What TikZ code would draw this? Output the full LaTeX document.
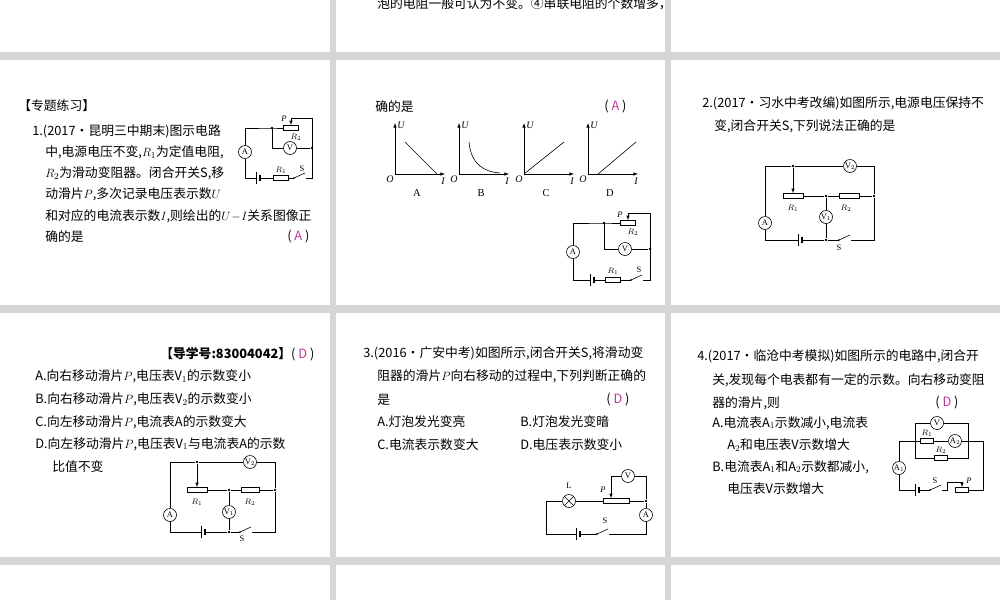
\documentclass[tikz,border=0pt]{standalone}
\usepackage{fontspec}
\setmainfont{Liberation Serif}
\newfontfamily\cjk{Noto Sans CJK SC}
\definecolor{bgc}{HTML}{D6D6D6}
\definecolor{ans}{HTML}{C0399A}
\newcommand\batt[3]{\coordinate (#1l) at (#2-2,#3); \coordinate (#1r) at (#2+2,#3);
 \draw (#2-2,#3-6)--(#2-2,#3+6); \draw[line width=1.3pt] (#2+2,#3-3)--(#2+2,#3+3);}
\newcommand\swt[3]{\coordinate (#1l) at (#2-6,#3); \coordinate (#1r) at (#2+6,#3);
 \draw (#2-6,#3) -- (#2+5,#3-5); \fill (#2-6,#3) circle (0.9pt);}
\begin{document}
\begin{tikzpicture}[x=1pt,y=-1pt,line width=0.6pt,
 txt/.style={anchor=west,inner sep=0,font=\cjk\fontsize{12.8}{14}\selectfont},
 resb/.style={draw,rectangle,minimum width=15pt,minimum height=5pt,inner sep=0},
 meter/.style={draw,circle,minimum size=13pt,inner sep=0,font=\fontsize{8.5}{8.5}\selectfont},
 dotn/.style={circle,fill,minimum size=2.6pt,inner sep=0},
 lab/.style={inner sep=0,font=\fontsize{8.5}{8.5}\selectfont\itshape},
 panel/.style={fill=white,draw=none}]
\useasboundingbox (0,0) rectangle (1000,600);
\fill[bgc] (0,0) rectangle (1000,600);
\foreach \a/\b in {0/330,336/665,671/1000}{
 \foreach \c/\d in {0/52,60/305,313/557,565/600}{
  \fill[white] (\a,\c) rectangle (\b,\d);}}
% top row
\node[txt] (t0) at (377,4) {泡的电阻一般可认为不变。④串联电阻的个数增多，};
% ---------- panel 1
\node[txt] (p1h) at (18,106) {【专题练习】};
\node[txt] (p1a) at (32,131) {1.(2017·昆明三中期末)图示电路};
\node[txt] (p1b) at (45,152) {中,电源电压不变,$R_1$为定值电阻,};
\node[txt] (p1c) at (45,173) {$R_2$为滑动变阻器。闭合开关S,移};
\node[txt] (p1d) at (45,194) {动滑片$P$,多次记录电压表示数$U$};
\node[txt] (p1e) at (45,216) {和对应的电流表示数$I$,则绘出的$U\!-\!I$关系图像正};
\node[txt] (p1f) at (45,237) {确的是};
\node[txt] (p1g) at (287,237) {( \textcolor{ans}{A} )};
% circuit 1
\node[meter] (a1) at (245,152) {A};
\node[resb] (r21) at (291,128) {};
\node[meter] (v1) at (290,148) {V};
\node[resb] (r11) at (281,178) {};
\coordinate (j1) at (272,128);
\node[dotn] (j1d) at (272,128) {};
\node[dotn] (j1r) at (312,148) {};
\coordinate (c1tl) at (245,128);
\coordinate (c1bl) at (245,178);
\coordinate (c1br) at (312,178);
\coordinate (c1tr) at (312,118);
\coordinate (c1p) at (291,118);
\batt{b1}{258}{178}
\swt{s1}{300}{178}
\draw (a1) -- (c1tl) -- (j1) -- (r21.west);
\draw (j1) |- (v1) -- (j1r);
\draw (a1) -- (c1bl) -- (b1l); \draw (b1r) -- (r11.west); \draw (r11.east) -- (s1l);
\draw (s1r) -- (c1br) -- (c1tr) -- (c1p); \draw[-latex] (c1p) -- (r21.north);
\node[lab] (l1p) at (284,119) {P};
\node[lab] (l1r2) at (296,137) {$R_2$};
\node[lab] (l1r1) at (281,170) {$R_1$};
\node[lab,font=\fontsize{8.5}{8.5}\selectfont] (l1s) at (302,169) {S};
% ---------- panel 2
\node[txt] (p2a) at (375,107) {确的是};
\node[txt] (p2b) at (604,107) {( \textcolor{ans}{A} )};
\foreach \ox/\nm in {395/A,459/B,524/C,588/D}{
 \draw[-latex] (\ox,174) -- (\ox,123);
 \draw[-latex] (\ox,174) -- (\ox+50,174);
 \node[lab,font=\fontsize{10}{10}\selectfont\itshape] at (\ox+6,125) {U};
 \node[lab,font=\fontsize{10}{10}\selectfont\itshape] at (\ox-5,179) {O};
 \node[lab,font=\fontsize{10}{10}\selectfont\itshape] at (\ox+48,181) {I};
 \node[inner sep=0,font=\fontsize{10.5}{11}\selectfont] at (\ox+22,193) {\nm};}
\draw (405,142) -- (437,174);
\draw (469,142) .. controls (471,165) and (485,172) .. (500,173);
\draw (524,174) -- (564,142);
\draw (598,174) -- (636,142);
% circuit 2
\node[meter] (a2) at (573,252) {A};
\node[resb] (r22) at (628,223) {};
\node[meter] (v2) at (625,249) {V};
\node[resb] (r12) at (613,280) {};
\coordinate (j2) at (604,223);
\node[dotn] (j2d) at (604,223) {};
\node[dotn] (j2r) at (650,249) {};
\coordinate (c2tl) at (573,223);
\coordinate (c2bl) at (573,280);
\coordinate (c2br) at (650,280);
\coordinate (c2tr) at (650,213);
\coordinate (c2p) at (628,213);
\batt{b2}{592}{280}
\swt{s2}{637}{280}
\draw (a2) -- (c2tl) -- (j2) -- (r22.west);
\draw (j2) |- (v2) -- (j2r);
\draw (a2) -- (c2bl) -- (b2l); \draw (b2r) -- (r12.west); \draw (r12.east) -- (s2l);
\draw (s2r) -- (c2br) -- (c2tr) -- (c2p); \draw[-latex] (c2p) -- (r22.north);
\node[lab] (l2p) at (620,215) {P};
\node[lab] (l2r2) at (633,232) {$R_2$};
\node[lab] (l2r1) at (613,271) {$R_1$};
\node[lab,font=\fontsize{8.5}{8.5}\selectfont] (l2s) at (639,270) {S};
% ---------- panel 3
\node[txt] (p3a) at (702,103) {2.(2017·习水中考改编)如图所示,电源电压保持不};
\node[txt] (p3b) at (714,126) {变,闭合开关S,下列说法正确的是};
\node[meter] (a3) at (765,223) {A};
\node[meter] (v23) at (850,166) {V$_2$};
\node[meter] (v13) at (826,217) {V$_1$};
\node[resb,minimum width=20pt] (r13) at (793,196) {};
\node[resb,minimum width=20pt] (r23) at (849,196) {};
\node[dotn] (j3a) at (793,166) {};
\node[dotn] (j3b) at (826,196) {};
\node[dotn] (j3c) at (874,196) {};
\node[dotn] (j3d) at (826,240) {};
\coordinate (c3tl) at (765,166);
\coordinate (c3tr) at (874,166);
\coordinate (c3bl) at (765,240);
\coordinate (c3br) at (874,240);
\batt{b3}{800}{240}
\swt{s3}{845}{240}
\draw (a3) -- (c3tl) -- (j3a) -- (v23) -- (c3tr) -- (j3c) -- (c3br) -- (s3r);
\draw[-latex] (j3a) -- (r13.north);
\draw (r13.east) -- (j3b) -- (r23.west); \draw (r23.east) -- (j3c);
\draw (j3b) -- (v13) -- (j3d);
\draw (a3) -- (c3bl) -- (b3l); \draw (b3r) -- (j3d) -- (s3l);
\node[lab] (l3r1) at (793,208) {$R_1$};
\node[lab] (l3r2) at (846,208) {$R_2$};
\node[lab,font=\fontsize{8.5}{8.5}\selectfont] (l3s) at (839,248) {S};
% ---------- panel 4
\node[txt] (p4h) at (160,354) {\textbf{【导学号:83004042】}( \textcolor{ans}{D} )};
\node[txt] (p4a) at (35,376) {A.向右移动滑片$P$,电压表V$_1$的示数变小};
\node[txt] (p4b) at (35,399) {B.向右移动滑片$P$,电压表V$_2$的示数变小};
\node[txt] (p4c) at (35,422) {C.向左移动滑片$P$,电流表A的示数变大};
\node[txt] (p4d) at (35,444) {D.向左移动滑片$P$,电压表V$_1$与电流表A的示数};
\node[txt] (p4e) at (52,467) {比值不变};
\node[meter] (a4) at (170,515) {A};
\node[meter] (v24) at (250,462) {V$_2$};
\node[meter] (v14) at (229,512) {V$_1$};
\node[resb,minimum width=20pt] (r14) at (197,490) {};
\node[resb,minimum width=18pt] (r24) at (250,490) {};
\node[dotn] (j4a) at (197,462) {};
\node[dotn] (j4b) at (229,490) {};
\node[dotn] (j4c) at (275,490) {};
\node[dotn] (j4d) at (229,532) {};
\coordinate (c4tl) at (170,462);
\coordinate (c4tr) at (275,462);
\coordinate (c4bl) at (170,532);
\coordinate (c4br) at (275,532);
\batt{b4}{203}{532}
\swt{s4}{246}{532}
\draw (a4) -- (c4tl) -- (j4a) -- (v24) -- (c4tr) -- (j4c) -- (c4br) -- (s4r);
\draw[-latex] (j4a) -- (r14.north);
\draw (r14.east) -- (j4b) -- (r24.west); \draw (r24.east) -- (j4c);
\draw (j4b) -- (v14) -- (j4d);
\draw (a4) -- (c4bl) -- (b4l); \draw (b4r) -- (j4d) -- (s4l);
\node[lab] (l4r1) at (197,502) {$R_1$};
\node[lab] (l4r2) at (250,502) {$R_2$};
\node[lab,font=\fontsize{8.5}{8.5}\selectfont] (l4s) at (242,539) {S};
% ---------- panel 5
\node[txt] (p5a) at (363,353) {3.(2016·广安中考)如图所示,闭合开关S,将滑动变};
\node[txt] (p5b) at (377,376) {阻器的滑片$P$向右移动的过程中,下列判断正确的};
\node[txt] (p5c) at (377,400) {是};
\node[txt] (p5d) at (606,400) {( \textcolor{ans}{D} )};
\node[txt] (p5e) at (377,422) {A.灯泡发光变亮};
\node[txt] (p5f) at (520,422) {B.灯泡发光变暗};
\node[txt] (p5g) at (377,445) {C.电流表示数变大};
\node[txt] (p5h) at (520,445) {D.电压表示数变小};
\node[draw,circle,minimum size=13pt,inner sep=0] (lamp) at (569,501) {};
\draw (lamp.north west) -- (lamp.south east) (lamp.north east) -- (lamp.south west);
\node[resb,minimum width=26pt] (r5) at (616,501) {};
\node[meter] (v5) at (628,476) {V};
\node[meter] (a5) at (646,515) {A};
\node[dotn] (j5) at (646,501) {};
\coordinate (c5tl) at (546,501);
\coordinate (c5bl) at (546,534);
\coordinate (c5br) at (646,534);
\coordinate (c5tr) at (646,476);
\coordinate (c5p) at (611,476);
\batt{b5}{578}{534}
\swt{s5}{603}{534}
\draw (lamp) -- (c5tl) -- (c5bl) -- (b5l); \draw (b5r) -- (s5l); \draw (s5r) -- (c5br) -- (a5) -- (j5) -- (c5tr) -- (v5) -- (c5p);
\draw[-latex] (c5p) -- (r5.north -| c5p);
\draw (lamp) -- (r5.west); \draw (r5.east) -- (j5);
\node[inner sep=0,font=\fontsize{8.5}{8.5}\selectfont] (l5l) at (569,486) {L};
\node[lab] (l5p) at (603,490) {P};
\node[inner sep=0,font=\fontsize{8.5}{8.5}\selectfont] (l5s) at (605,521) {S};
% ---------- panel 6
\node[txt] (p6a) at (697,356) {4.(2017·临沧中考模拟)如图所示的电路中,闭合开};
\node[txt] (p6b) at (712,380) {关,发现每个电表都有一定的示数。向右移动变阻};
\node[txt] (p6c) at (712,403) {器的滑片,则};
\node[txt] (p6d) at (935,403) {( \textcolor{ans}{D} )};
\node[txt] (p6e) at (712,423) {A.电流表A$_1$示数减小,电流表};
\node[txt] (p6f) at (727,445) {A$_2$和电压表V示数增大};
\node[txt] (p6g) at (712,467) {B.电流表A$_1$和A$_2$示数都减小,};
\node[txt] (p6h) at (727,489) {电压表V示数增大};
\node[meter] (v6) at (937,423) {V};
\node[meter] (a26) at (955,441) {A$_2$};
\node[meter] (a16) at (899,468) {A$_1$};
\node[resb,minimum width=13pt] (r16) at (927,441) {};
\node[resb,minimum width=13pt] (r26) at (941,458) {};
\node[resb,minimum width=13pt] (r36) at (962,490) {};
\coordinate (c6il) at (915,423); \coordinate (c6ir) at (968,423);
\coordinate (c6ibl) at (915,458); \coordinate (c6ibr) at (968,458);
\coordinate (c6ml) at (915,441); \coordinate (c6mr) at (968,441);
\coordinate (c6ol) at (899,441); \coordinate (c6or) at (983,441);
\coordinate (c6bl) at (899,490); \coordinate (c6br) at (983,490);
\coordinate (c6p1) at (947,490); \coordinate (c6p2) at (947,482); \coordinate (c6p3) at (962,482);
\batt{b6}{917}{490}
\swt{s6}{936}{490}
\draw (c6ibl) -- (c6il) -- (v6) -- (c6ir) -- (c6ibr) -- (r26) -- (c6ibl);
\draw (c6ml) -- (r16) -- (a26) -- (c6mr);
\draw (a16) -- (c6ol) -- (c6ml); \draw (c6mr) -- (c6or) -- (c6br) -- (r36.east);
\draw (a16) -- (c6bl) -- (b6l); \draw (b6r) -- (s6l);
\draw (s6r) -- (c6p1) -- (c6p2) -- (c6p3); \draw[-latex] (c6p3) -- (r36.north);
\node[lab] (l6r1) at (927,433) {$R_1$};
\node[lab] (l6r2) at (941,450) {$R_2$};
\node[lab] (l6p) at (969,481) {P};
\node[inner sep=0,font=\fontsize{8.5}{8.5}\selectfont] (l6s) at (935,481) {S};
\end{tikzpicture}
\end{document}
